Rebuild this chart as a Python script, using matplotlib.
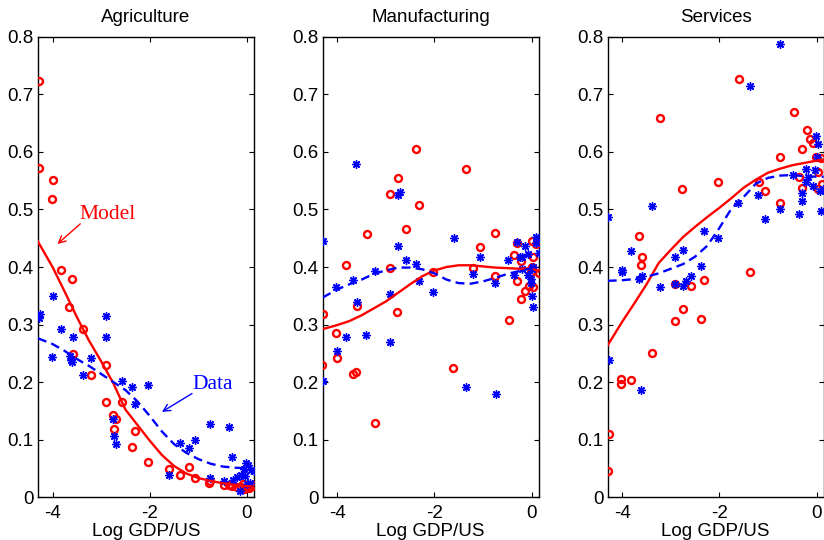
import matplotlib
matplotlib.use("Agg")
import matplotlib.pyplot as plt

# ---------------- data ----------------
titles = ["Agriculture", "Manufacturing", "Services"]
xlabel = "Log GDP/US"
xticks = [-4, -2, 0]
yticks = [0, 0.1, 0.2, 0.3, 0.4, 0.5, 0.6, 0.7, 0.8]
yticklabels = ["0", "0.1", "0.2", "0.3", "0.4", "0.5", "0.6", "0.7", "0.8"]

# Agriculture
agr_model_x = [-4.28, -4.27, -3.99, -4.01, -3.82, -3.60, -3.66, -3.38, -3.57, -3.21, -2.91, -2.90, -2.58,
               -2.76, -2.69, -2.74, -2.31, -2.37, -2.03, -1.60, -1.37, -1.20, -1.06, -0.77, -0.75, -0.47,
               -0.36, -0.30, -0.20, -0.12, -0.05, 0.00, 0.05, 0.10, 0.13, -0.08, 0.02]
agr_model_y = [0.724, 0.572, 0.551, 0.518, 0.395, 0.379, 0.331, 0.292, 0.249, 0.213, 0.230, 0.166, 0.166,
               0.142, 0.135, 0.118, 0.115, 0.087, 0.061, 0.049, 0.039, 0.053, 0.033, 0.025, 0.027, 0.021,
               0.021, 0.020, 0.017, 0.018, 0.014, 0.017, 0.016, 0.020, 0.021, 0.022, 0.019]
agr_data_x = [-4.26, -4.28, -3.99, -4.02, -3.82, -3.58, -3.65, -3.62, -3.60, -3.38, -3.21, -2.91, -2.90,
              -2.57, -2.36, -2.30, -2.03, -2.76, -2.74, -2.69, -1.60, -1.37, -1.20, -1.06, -0.76, -0.36,
              -0.76, -0.47, -0.30, -0.28, -0.21, -0.12, -0.05, -0.01, 0.02, 0.08, 0.14, 0.06, -0.14, 0.00, -0.03]
agr_data_y = [0.318, 0.311, 0.350, 0.243, 0.292, 0.278, 0.245, 0.238, 0.235, 0.212, 0.242, 0.314, 0.278,
              0.202, 0.191, 0.162, 0.194, 0.135, 0.106, 0.092, 0.038, 0.094, 0.086, 0.099, 0.127, 0.122,
              0.033, 0.027, 0.069, 0.030, 0.034, 0.038, 0.049, 0.060, 0.056, 0.047, 0.045, 0.025, 0.011, 0.022, 0.037]

# Manufacturing
man_model_x = [-4.29, -4.31, -4.02, -4.00, -3.82, -3.59, -3.67, -3.61, -3.39, -3.22, -2.91, -2.75, -2.92,
               -2.77, -2.58, -2.37, -2.31, -2.03, -1.61, -1.36, -1.20, -1.06, -0.75, -0.75, -0.47, -0.36,
               -0.31, -0.30, -0.22, -0.21, -0.14, -0.05, 0.02, 0.00, 0.10, 0.02, -0.02, 0.00, 0.16]
man_model_y = [0.319, 0.229, 0.286, 0.242, 0.403, 0.333, 0.214, 0.217, 0.457, 0.128, 0.527, 0.555, 0.399,
               0.322, 0.466, 0.605, 0.507, 0.392, 0.224, 0.570, 0.398, 0.435, 0.460, 0.384, 0.308, 0.421,
               0.441, 0.376, 0.411, 0.344, 0.359, 0.367, 0.365, 0.446, 0.440, 0.417, 0.392, 0.400, 0.390]
man_data_x = [-4.29, -4.30, -4.02, -4.00, -3.82, -3.61, -3.67, -3.59, -3.40, -3.22, -2.92, -2.92, -2.76,
              -2.70, -2.76, -2.58, -2.37, -2.31, -2.03, -1.60, -1.36, -1.20, -1.06, -0.75, -0.74, -0.48,
              -0.36, -0.31, -0.24, -0.20, -0.19, -0.14, -0.07, -0.07, -0.02, -0.01, 0.00, 0.00, 0.03,
              0.09, 0.10, 0.16, 0.02]
man_data_y = [0.446, 0.202, 0.365, 0.254, 0.279, 0.579, 0.377, 0.340, 0.281, 0.393, 0.353, 0.269, 0.525,
              0.530, 0.437, 0.413, 0.406, 0.376, 0.356, 0.450, 0.192, 0.388, 0.417, 0.373, 0.179, 0.413,
              0.386, 0.444, 0.418, 0.417, 0.396, 0.437, 0.423, 0.386, 0.380, 0.373, 0.350, 0.396, 0.330,
              0.453, 0.442, 0.425, 0.400]

# Services
ser_model_x = [-4.30, -4.28, -4.02, -4.02, -3.83, -3.66, -3.59, -3.61, -3.39, -3.22, -2.92, -2.92, -2.77,
               -2.76, -2.59, -2.37, -2.32, -2.03, -1.60, -1.38, -1.19, -1.06, -0.76, -0.75, -0.47, -0.36,
               -0.30, -0.30, -0.20, -0.14, -0.08, -0.02, 0.03, 0.03, 0.10, 0.12]
ser_model_y = [0.046, 0.109, 0.206, 0.196, 0.203, 0.454, 0.418, 0.403, 0.251, 0.659, 0.370, 0.306, 0.536,
               0.327, 0.367, 0.309, 0.377, 0.547, 0.727, 0.391, 0.548, 0.532, 0.592, 0.511, 0.670, 0.557,
               0.605, 0.538, 0.638, 0.622, 0.615, 0.591, 0.566, 0.535, 0.589, 0.545]
ser_data_x = [-4.30, -4.28, -4.01, -4.01, -3.83, -3.61, -3.60, -3.65, -3.39, -3.22, -2.92, -2.92, -2.76,
              -2.75, -2.69, -2.59, -2.37, -2.32, -2.03, -1.62, -1.38, -1.21, -1.06, -0.76, -0.76, -0.49,
              -0.36, -0.30, -0.31, -0.21, -0.18, -0.21, -0.08, -0.04, -0.02, 0.03, 0.00, 0.06, 0.08, 0.14]
ser_data_y = [0.487, 0.238, 0.395, 0.391, 0.428, 0.186, 0.384, 0.379, 0.506, 0.365, 0.418, 0.370, 0.430,
              0.367, 0.376, 0.385, 0.402, 0.463, 0.450, 0.511, 0.714, 0.525, 0.483, 0.788, 0.500, 0.560,
              0.492, 0.528, 0.514, 0.570, 0.557, 0.548, 0.540, 0.569, 0.628, 0.614, 0.592, 0.533, 0.498, 0.535]

# fitted curves
curve_x = [-4.30, -4.0, -3.75, -3.5, -3.25, -3.0, -2.75, -2.5, -2.25, -2.0, -1.75, -1.5, -1.25,
           -1.0, -0.75, -0.5, -0.25, 0.0, 0.145]
agr_model_curve = [0.444, 0.400, 0.357, 0.313, 0.272, 0.236, 0.198, 0.152, 0.125, 0.098, 0.073, 0.054,
                   0.041, 0.033, 0.028, 0.024, 0.021, 0.019, 0.018]
agr_data_curve = [0.276, 0.266, 0.254, 0.240, 0.228, 0.214, 0.200, 0.186, 0.166, 0.141, 0.114, 0.092,
                  0.077, 0.066, 0.058, 0.053, 0.051, 0.050, 0.049]
man_model_curve = [0.292, 0.299, 0.306, 0.316, 0.328, 0.340, 0.355, 0.370, 0.384, 0.394, 0.400, 0.403,
                   0.403, 0.401, 0.399, 0.398, 0.397, 0.398, 0.392]
man_data_curve = [0.347, 0.361, 0.370, 0.378, 0.388, 0.394, 0.399, 0.399, 0.396, 0.389, 0.378, 0.372,
                  0.371, 0.375, 0.381, 0.388, 0.393, 0.398, 0.400]
ser_model_curve = [0.264, 0.305, 0.337, 0.370, 0.407, 0.430, 0.452, 0.470, 0.487, 0.503, 0.520, 0.538,
                   0.552, 0.564, 0.571, 0.577, 0.581, 0.585, 0.587]
ser_data_curve = [0.376, 0.377, 0.379, 0.383, 0.389, 0.397, 0.405, 0.418, 0.437, 0.468, 0.502, 0.522,
                  0.545, 0.555, 0.559, 0.560, 0.558, 0.557, 0.557]

panels = [
    (agr_model_x, agr_model_y, agr_data_x, agr_data_y, agr_model_curve, agr_data_curve),
    (man_model_x, man_model_y, man_data_x, man_data_y, man_model_curve, man_data_curve),
    (ser_model_x, ser_model_y, ser_data_x, ser_data_y, ser_model_curve, ser_data_curve),
]

# ---------------- figure ----------------
plt.rcParams['font.family'] = ['Liberation Sans', 'DejaVu Sans']
fig = plt.figure(figsize=(8.24, 5.40), dpi=100)
lefts = [0.0461, 0.3916, 0.7375]
RED = '#FF0000'
BLUE = '#0000FF'
asterisk = (8, 2, 0)

axes = []
for i, (mx, my, dx, dy, mc, dc) in enumerate(panels):
    ax = fig.add_axes([lefts[i], 0.0796, 0.2621, 0.8519])
    axes.append(ax)
    ax.plot(mx, my, linestyle='none', marker='o', ms=5.0, mew=1.7, mfc='none', mec=RED, zorder=3)
    ax.plot(dx, dy, linestyle='none', marker=asterisk, ms=6.0, mew=1.0, mec=BLUE, mfc=BLUE, zorder=3)
    ax.plot(curve_x, mc, color=RED, lw=1.7, zorder=4)
    ax.plot(curve_x, dc, color=BLUE, lw=1.7, dashes=(3.8, 2.2), zorder=4)
    ax.set_xlim(-4.30, 0.145)
    ax.set_ylim(0, 0.8)
    ax.set_xticks(xticks)
    ax.set_xticklabels([str(t) for t in xticks])
    ax.set_yticks(yticks)
    ax.set_yticklabels(yticklabels)
    ax.tick_params(direction='in', length=3.5, width=0.8, top=True, right=True,
                   labelsize=13.5, colors='black')
    ax.tick_params(axis='x', pad=5.5)
    ax.tick_params(axis='y', pad=3)
    for s in ax.spines.values():
        s.set_linewidth(1.0)
        s.set_color('black')
    ax.set_title(titles[i], fontsize=13.5, pad=11)
    ax.set_xlabel(xlabel, fontsize=13.5, labelpad=1)

ax0 = axes[0]
serif = ['Liberation Serif', 'DejaVu Serif']
ax0.text(-3.45, 0.4835, "Model", color=RED, fontsize=15.5, family=serif, ha='left', va='baseline')
ax0.annotate('', xy=(-3.90, 0.440), xytext=(-3.43, 0.475),
             arrowprops=dict(arrowstyle='->,head_length=0.5,head_width=0.25', color=RED, lw=1.0,
                             shrinkA=0, shrinkB=0))
ax0.text(-1.13, 0.187, "Data", color=BLUE, fontsize=15.5, family=serif, ha='left', va='baseline')
ax0.annotate('', xy=(-1.75, 0.148), xytext=(-1.13, 0.180),
             arrowprops=dict(arrowstyle='->,head_length=0.5,head_width=0.25', color=BLUE, lw=1.0,
                             shrinkA=0, shrinkB=0))

fig.savefig('out.png', dpi=100)
